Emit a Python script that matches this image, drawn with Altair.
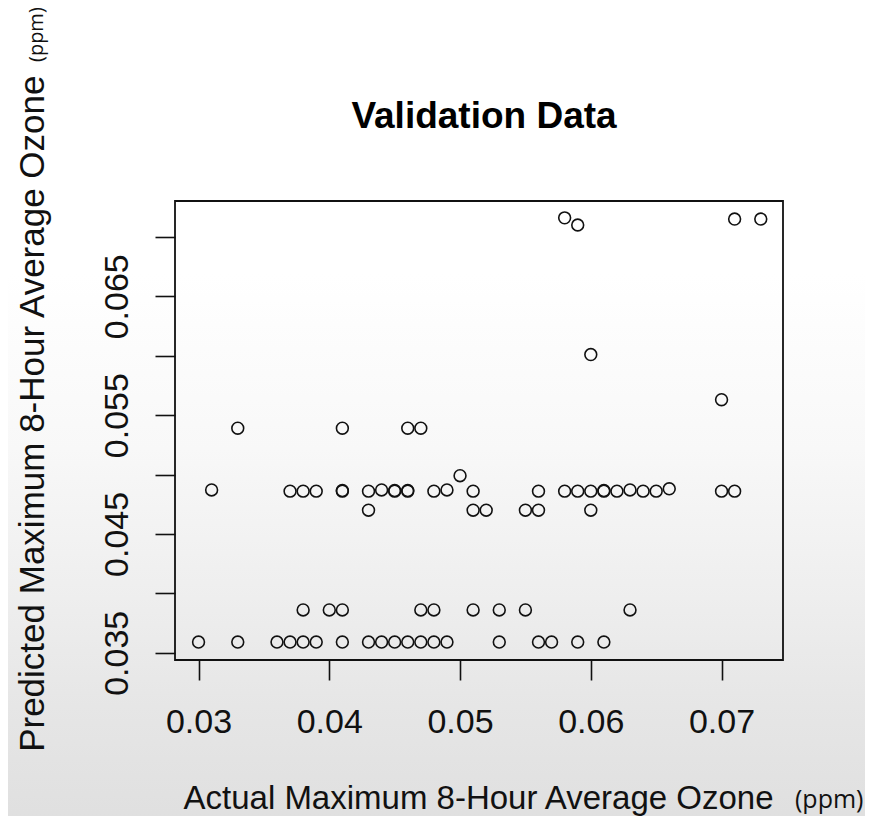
import altair as alt
import pandas as pd

# Actual (x) and predicted (y) maximum 8-hour average ozone, ppm
actual = [
    0.030, 0.033, 0.036, 0.037, 0.038, 0.039, 0.041, 0.043, 0.044, 0.045,
    0.046, 0.047, 0.048, 0.049, 0.053, 0.056, 0.057, 0.059, 0.061,
    0.038, 0.040, 0.041, 0.047, 0.048, 0.051, 0.053, 0.055, 0.063,
    0.043, 0.051, 0.052, 0.055, 0.056, 0.060,
    0.031, 0.037, 0.038, 0.039, 0.041, 0.041, 0.043, 0.044, 0.045, 0.045,
    0.046, 0.046, 0.048, 0.049, 0.051, 0.056, 0.058, 0.059, 0.060, 0.061,
    0.061, 0.062, 0.063, 0.064, 0.065, 0.066, 0.070, 0.071,
    0.050,
    0.033, 0.041, 0.046, 0.047,
    0.058, 0.059, 0.060, 0.070, 0.071, 0.073,
]
predicted = [
    0.0359, 0.0359, 0.0359, 0.0359, 0.0359, 0.0359, 0.0359, 0.0359, 0.0359, 0.0359,
    0.0359, 0.0359, 0.0359, 0.0359, 0.0359, 0.0359, 0.0359, 0.0359, 0.0359,
    0.0386, 0.0386, 0.0386, 0.0386, 0.0386, 0.0386, 0.0386, 0.0386, 0.0386,
    0.0470, 0.0470, 0.0470, 0.0470, 0.0470, 0.0470,
    0.0487, 0.0486, 0.0486, 0.0486, 0.0486, 0.04865, 0.0486, 0.0487, 0.0486, 0.04865,
    0.0486, 0.04865, 0.0486, 0.0487, 0.0486, 0.0486, 0.0486, 0.0486, 0.0486, 0.0486,
    0.04865, 0.0486, 0.0487, 0.0486, 0.0486, 0.0488, 0.0486, 0.0486,
    0.0499,
    0.0539, 0.0539, 0.0539, 0.0539,
    0.0716, 0.0710, 0.0601, 0.0563, 0.0715, 0.0715,
]

x_ticks = [0.03, 0.04, 0.05, 0.06, 0.07]
y_ticks = [0.035, 0.040, 0.045, 0.050, 0.055, 0.060, 0.065, 0.070]

title_text = ["Validation Data"]
unit_text = ["(ppm)"]

df = pd.DataFrame({"actual": actual, "predicted": predicted})

W, H = 608, 459
FONT = "Liberation Sans, Arial, Helvetica, sans-serif"
UNIT_FONT = "Open Sans, Noto Sans, sans-serif"
INK = "#111111"

one = pd.DataFrame({"k": [0]})

bg = alt.Chart(one).mark_rect(
    color=alt.LinearGradient(
        gradient="linear",
        x1=0, x2=0, y1=0, y2=1,
        stops=[
            alt.GradientStop(color="#ffffff", offset=0.0),
            alt.GradientStop(color="#ffffff", offset=0.33),
            alt.GradientStop(color="#f8f8f8", offset=0.54),
            alt.GradientStop(color="#eeeeee", offset=0.72),
            alt.GradientStop(color="#e6e6e6", offset=0.85),
            alt.GradientStop(color="#dfdfdf", offset=1.0),
        ],
    )
).encode(
    x=alt.value(-175), x2=alt.value(W + 100),
    y=alt.value(-201), y2=alt.value(H + 170),
)

pts = alt.Chart(df).mark_point(
    shape="circle", filled=False, size=140, strokeWidth=1.6, color="#111111", opacity=1
).encode(
    x=alt.X(
        "actual:Q",
        scale=alt.Scale(domain=[0.0282, 0.0747], nice=False, zero=False),
        axis=alt.Axis(
            values=x_ticks, format=".2f", zindex=3,
            title="Actual Maximum 8-Hour Average Ozone",
            titleFont=FONT, titleFontSize=33, titleFontWeight="normal", titleColor=INK,
            titleX=8, titleY=148, titleAlign="left", titleBaseline="alphabetic",
            titleAnchor="start",
            labelPadding=25, labelBaseline="top", labelAlign="center",
        ),
    ),
    y=alt.Y(
        "predicted:Q",
        scale=alt.Scale(domain=[0.03439, 0.07302], nice=False, zero=False),
        axis=alt.Axis(
            values=y_ticks, zindex=3,
            labelExpr="abs((datum.value * 1000) % 10 - 5) < 0.5 ? format(datum.value, '.3f') : ''",
            labelAngle=270, labelAlign="center", labelBaseline="alphabetic",
            labelPadding=28,
            title="Predicted Maximum 8-Hour Average Ozone",
            titleFont=FONT, titleFontSize=35, titleFontWeight="normal", titleColor=INK,
            titleAngle=270, titleX=-132, titleY=-126, titleAlign="right",
            titleBaseline="alphabetic",
        ),
    ),
)

box = alt.Chart(one).mark_rect(
    fillOpacity=0, stroke=INK, strokeWidth=1.8
).encode(
    x=alt.value(0), x2=alt.value(W), y=alt.value(0), y2=alt.value(H),
)

title = alt.Chart(pd.DataFrame({"t": title_text})).mark_text(
    font=FONT, fontSize=37, fontWeight="bold", align="center",
    baseline="alphabetic", color="#000000",
).encode(text="t:N", x=alt.value(W / 2 + 5), y=alt.value(-73))

ppm_x = alt.Chart(pd.DataFrame({"t": unit_text})).mark_text(
    font=UNIT_FONT, fontSize=25, align="left",
    baseline="alphabetic", color=INK,
).encode(text="t:N", x=alt.value(620), y=alt.value(607))

ppm_y = alt.Chart(pd.DataFrame({"t": unit_text})).mark_text(
    font=UNIT_FONT, fontSize=20, align="left",
    baseline="alphabetic", angle=270, color=INK,
).encode(text="t:N", x=alt.value(-132), y=alt.value(-139))

chart = alt.layer(bg, pts, box, title, ppm_x, ppm_y).properties(
    width=W, height=H,
    autosize=alt.AutoSizeParams(type="none"),
    padding={"left": 167, "top": 193, "right": 82, "bottom": 156},
    background="white",
).configure_view(
    strokeWidth=0
).configure_axis(
    domain=False, grid=False,
    tickColor=INK, tickWidth=1.6, tickSize=20,
    labelFont=FONT, labelFontSize=34, labelColor=INK,
    labelOverlap=False, labelFlush=False,
)

chart.save("out.html", embed_options={"renderer": "svg", "actions": False})
